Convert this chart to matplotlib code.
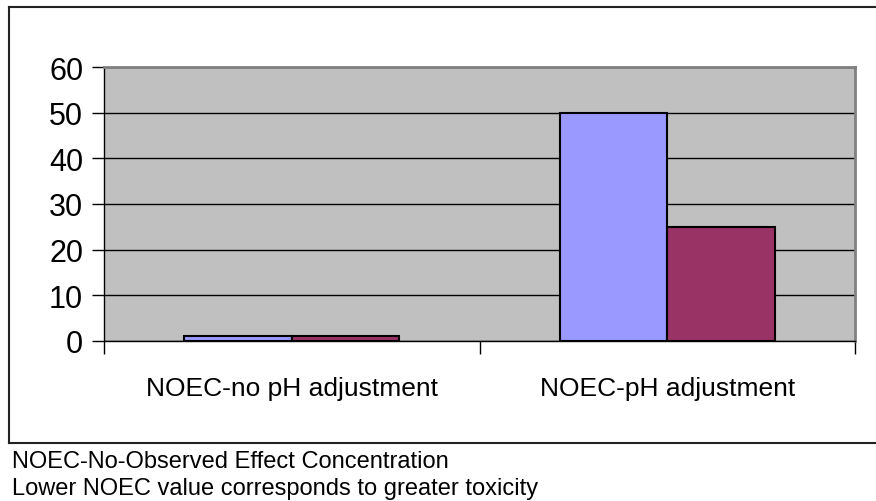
import numpy as np
import matplotlib.pyplot as plt
from matplotlib.lines import Line2D

plt.rcParams['font.family'] = ['Liberation Sans', 'DejaVu Sans']

categories = ['NOEC-no pH adjustment', 'NOEC-pH adjustment']
series_a = [1, 50]
series_b = [1, 25]
yticks = [0, 10, 20, 30, 40, 50, 60]
notes = ['NOEC-No-Observed Effect Concentration',
         'Lower NOEC value corresponds to greater toxicity']

W, H = 876, 502
fig = plt.figure(figsize=(W / 100, H / 100), dpi=100)

# plot area in pixel terms
x0, x1, ytop, ybot = 104, 855, 68, 342
ax = fig.add_axes([x0 / W, 1 - ybot / H, (x1 - x0) / W, (ybot - ytop) / H])
ax.set_facecolor('#C0C0C0')

x = np.arange(len(categories))
bw = 0.286
ax.bar(x - bw / 2, series_a, bw, color='#9999FF', edgecolor='black', linewidth=1.5, zorder=3)
ax.bar(x + bw / 2, series_b, bw, color='#993366', edgecolor='black', linewidth=1.5, zorder=3)

ax.set_xlim(-0.5, len(categories) - 0.5)
ax.set_ylim(0, 60)
ax.set_yticks(yticks)
ax.yaxis.grid(True, color='black', linewidth=1, zorder=1)
ax.set_axisbelow(True)

# category boundary ticks, labels centred in each slot
ax.set_xticks(np.arange(len(categories) + 1) - 0.5)
ax.set_xticklabels([])
ax.set_xticks(x, minor=True)
ax.set_xticklabels(categories, minor=True, fontsize=19)
ax.tick_params(axis='x', which='minor', length=0, pad=25)
ax.tick_params(axis='x', which='major', length=9, width=1, color='black', direction='out')
ax.tick_params(axis='y', length=9, width=1, labelsize=22, pad=6, direction='out')

for s in ['top', 'right']:
    ax.spines[s].set_color('#808080')
    ax.spines[s].set_linewidth(2)
for s in ['left', 'bottom']:
    ax.spines[s].set_color('black')
    ax.spines[s].set_linewidth(1)

# outer chart frame (no right edge)
bx0, by0, by1 = 9 / W, 1 - 8 / H, 1 - 444 / H
frame = dict(color='#222222', linewidth=1.5, transform=fig.transFigure)
fig.add_artist(Line2D([bx0, 1], [by0, by0], **frame))
fig.add_artist(Line2D([bx0, 1], [by1, by1], **frame))
fig.add_artist(Line2D([bx0, bx0], [by0, by1], **frame))

fig.text(12 / W, 1 - 462 / H, notes[0], fontsize=17, va='center')
fig.text(12 / W, 1 - 489 / H, notes[1], fontsize=17, va='center')

fig.savefig('out.png', dpi=100)
